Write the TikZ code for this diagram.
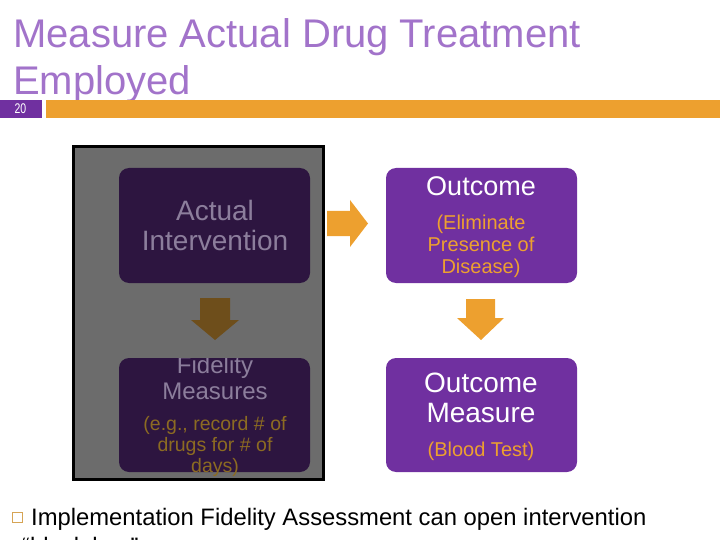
\documentclass[tikz,border=0pt]{standalone}
\usepackage{fontspec}
\setmainfont{Liberation Sans}
\definecolor{titlepurple}{HTML}{A273CA}
\definecolor{barorange}{HTML}{EDA02F}
\definecolor{bulletcol}{HTML}{D6A455}
\definecolor{mainpurple}{HTML}{7030A0}
\definecolor{panelgray}{HTML}{6C6C6C}
\definecolor{darkpurple}{HTML}{2D1540}
\definecolor{dimtext}{HTML}{8C7E9C}
\definecolor{dimgold}{HTML}{8C6B22}
\definecolor{brownarrow}{HTML}{6E4E1B}
\begin{document}
\begin{tikzpicture}[x=1pt,y=-1pt,
  titletext/.style={anchor=base west, inner sep=0pt, text=titlepurple, font=\fontsize{40}{47}\selectfont},
  roundbox/.style={rounded corners=10pt, minimum width=191pt, inner sep=0pt},
  bigtext/.style={align=center, inner sep=0pt, font=\fontsize{28}{30}\selectfont},
  smalltext/.style={align=center, inner sep=0pt, font=\fontsize{20}{22}\selectfont},
  bottomtext/.style={anchor=base west, inner sep=0pt, font=\fontsize{23.8}{29}\selectfont}]
\useasboundingbox (0,0) rectangle (720,540);
\clip (0,0) rectangle (720,540);
% title
\node[titletext] (title1) at (13,48) {Measure Actual Drug Treatment};
\node[titletext] (title2) at (13,95) {Employed};
% bar
\fill[barorange] (46,100) rectangle (720,118);
\fill[mainpurple] (0,100) rectangle (42,118);
\node[text=white, inner sep=0pt, font=\fontsize{14}{14}\selectfont] (num) at (20.5,109) {\scalebox{0.75}[1]{20}};
% gray panel
\node[draw=black, line width=3pt, fill=panelgray, minimum width=250pt, minimum height=333pt, inner sep=0pt] (panel) at (198.5,313) {};
% left boxes
\node[roundbox, fill=darkpurple, minimum height=115pt] (actbox) at (214.5,225.5) {};
\node[roundbox, fill=darkpurple, minimum height=114pt] (fidbox) at (214.5,415) {};
\node[bigtext, text=dimtext] (acttext) at (215,225) {Actual\\Intervention};
\begin{scope}
\clip (100,358) rectangle (330,482);
\node[align=center, inner sep=0pt, font=\fontsize{24}{26}\selectfont, text=dimtext] (fidtext) at (215,378) {Fidelity\\Measures};
\end{scope}
\node[align=center, inner sep=0pt, font=\fontsize{19.5}{21}\selectfont, text=dimgold] (fidsub) at (215,446) {(e.g., record \# of\\drugs for \# of\\days)};
% right boxes
\node[roundbox, fill=mainpurple, minimum height=115pt] (outbox) at (481.5,225.5) {};
\node[roundbox, fill=mainpurple, minimum height=114pt] (measbox) at (481.5,415) {};
\node[inner sep=0pt, text=white, font=\fontsize{27}{30}\selectfont] (outtext) at (481,186) {Outcome};
\node[smalltext, text=barorange] (outsub) at (481,246) {(Eliminate\\Presence of\\Disease)};
\node[bigtext, text=white] (meastext) at (481,398) {Outcome\\Measure};
\node[smalltext, text=barorange] (meassub) at (481,451) {(Blood Test)};
% block arrows
\fill[barorange] (327,211) -- (350,211) -- (350,200) -- (368,223.5) -- (350,247) -- (350,236) -- (327,236) -- cycle;
\fill[brownarrow] (200,298) -- (230,298) -- (230,320) -- (239,320) -- (215,340) -- (191,320) -- (200,320) -- cycle;
\fill[barorange] (466,299) -- (495,299) -- (495,318) -- (504,318) -- (481,340) -- (457,318) -- (466,318) -- cycle;
% bottom text
\node[draw=bulletcol, line width=0.9pt, minimum size=10pt, inner sep=0pt] (bullet) at (17,517.5) {};
\node[bottomtext] (bottom1) at (31,525) {Implementation Fidelity Assessment can open intervention};
\node[bottomtext] (bottom2) at (22,554) {“black box”};
\end{tikzpicture}
\end{document}
